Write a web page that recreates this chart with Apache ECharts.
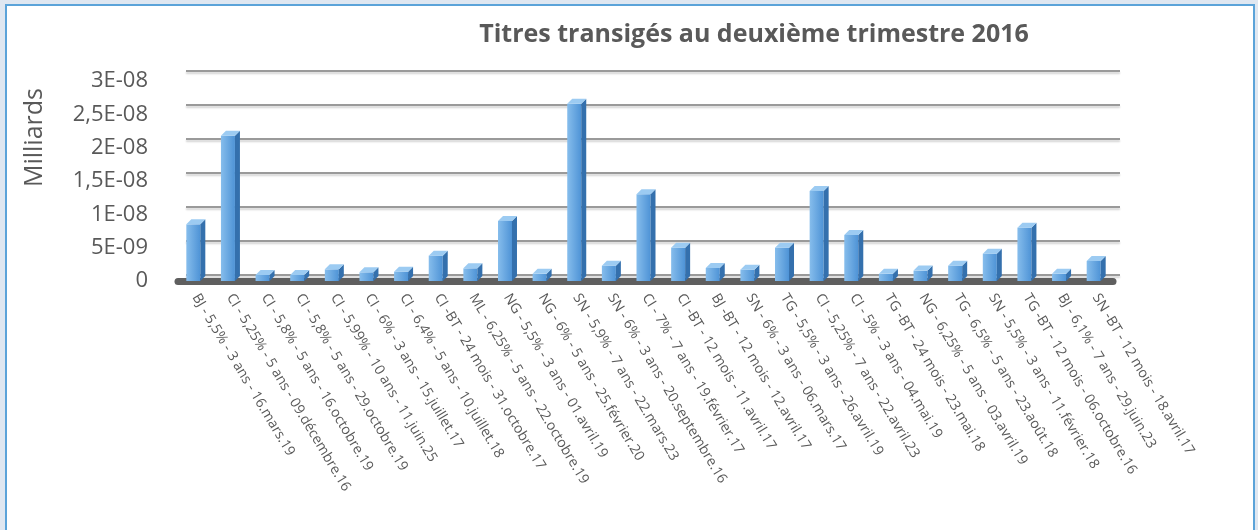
<!DOCTYPE html>
<html>
<head>
<meta charset="utf-8">
<script src="https://cdn.jsdelivr.net/npm/echarts@6/dist/echarts.min.js"></script>
<style>
  html, body { margin: 0; padding: 0; background: #dfe7f1; }
  #frame { position: absolute; left: 5px; top: 4px; width: 1246px; height: 540px;
    border: 2px solid #5ba3d9; background: #fff; }
  #chart { position: absolute; left: -7px; top: -6px; width: 1258px; height: 530px; }
</style>
</head>
<body>
<div id="frame"><div id="chart"></div></div>
<script>
const categories = [
  'BJ - 5,5% - 3 ans - 16.mars.19',
  'CI - 5,25% - 5 ans - 09.décembre.16',
  'CI - 5,8% - 5 ans - 16.octobre.19',
  'CI - 5,8% - 5 ans - 29.octobre.19',
  'CI - 5,99% - 10 ans - 11.juin.25',
  'CI - 6% - 3 ans - 15.juillet.17',
  'CI - 6,4% - 5 ans - 10.juillet.18',
  'CI -BT - 24 mois - 31.octobre.17',
  'ML - 6,25% - 5 ans - 22.octobre.19',
  'NG - 5,5% - 3 ans - 01.avril.19',
  'NG - 6% - 5 ans - 25.février.20',
  'SN - 5,9% - 7 ans - 22.mars.23',
  'SN - 6% - 3 ans - 20.septembre.16',
  'CI - 7% - 7 ans - 19.février.17',
  'CI -BT - 12 mois - 11.avril.17',
  'BJ -BT - 12 mois - 12.avril.17',
  'SN - 6% - 3 ans - 06.mars.17',
  'TG - 5,5% - 3 ans - 26.avril.19',
  'CI - 5,25% - 7 ans - 22.avril.23',
  'CI - 5% - 3 ans - 04.mai.19',
  'TG -BT - 24 mois - 23.mai.18',
  'NG - 6,25% - 5 ans - 03.avril.19',
  'TG - 6,5% - 5 ans - 23.août.18',
  'SN - 5,5% - 3 ans - 11.février.18',
  'TG -BT - 12 mois - 06.octobre.16',
  'BJ - 6,1% - 7 ans - 29.juin.23',
  'SN -BT - 12 mois - 18.avril.17'
]

// montants (milliards)
const values = [
  8.5e-9, 21.8e-9, 0.9e-9, 0.9e-9, 1.75e-9, 1.3e-9, 1.4e-9, 3.8e-9, 1.9e-9,
  9.0e-9, 1.07e-9, 26.6e-9, 2.3e-9, 13.0e-9, 5.0e-9, 1.95e-9, 1.7e-9, 5.0e-9,
  13.5e-9, 6.9e-9, 1.07e-9, 1.56e-9, 2.3e-9, 4.1e-9, 8.0e-9, 1.07e-9, 3.0e-9
]

const yTickLabels = ['0', '5E-09', '1E-08', '1,5E-08', '2E-08', '2,5E-08', '3E-08']
const yStep = 5e-9

const textColor = '#595959'
const chart = echarts.init(document.getElementById('chart'))

function renderBar(params, api) {
  const i = api.value(0)
  const base = api.coord([i, 0])
  const top = api.coord([i, api.value(1)])
  const w = 14
  const dx = 5
  const dy = -5
  const x = base[0] - w / 2 - 2
  return {
    type: 'group',
    children: [
      {
        type: 'rect',
        shape: { x: x, y: top[1], width: w, height: base[1] - top[1] },
        style: {
          fill: new echarts.graphic.LinearGradient(0, 0, 1, 0, [
            { offset: 0, color: '#86bdec' },
            { offset: 1, color: '#4e93d6' }
          ])
        }
      },
      {
        type: 'polygon',
        shape: { points: [[x + w, top[1]], [x + w + dx, top[1] + dy], [x + w + dx, base[1] + dy], [x + w, base[1]]] },
        style: { fill: '#3470ad' }
      },
      {
        type: 'polygon',
        shape: { points: [[x, top[1]], [x + dx, top[1] + dy], [x + w + dx, top[1] + dy], [x + w, top[1]]] },
        style: { fill: '#9ccbf2' }
      }
    ]
  }
}

chart.setOption({
  animation: false,
  title: {
    text: 'Titres transigés au deuxième trimestre 2016',
    left: 749,
    textAlign: 'center',
    top: 17,
    textStyle: { fontFamily: 'Open Sans', fontWeight: 'bold', fontSize: 25, color: textColor }
  },
  graphic: [{
    type: 'text',
    left: 22,
    top: 88,
    rotation: Math.PI / 2,
    style: { text: 'Milliards', fontFamily: 'Open Sans', fontSize: 25, fill: textColor }
  }],
  grid: [
    { left: 178, right: 145, top: 81, height: 200 },
    { left: 186, right: 138, top: 71, height: 204 }
  ],
  xAxis: [{
    type: 'category',
    gridIndex: 0,
    data: categories,
    axisLine: { lineStyle: { color: '#5f5f5f', width: 7 } },
    axisTick: { show: false },
    axisLabel: {
      rotate: -59,
      interval: 0,
      margin: 14,
      fontFamily: 'Open Sans',
      fontSize: 14,
      color: textColor
    }
  }, {
    type: 'category',
    gridIndex: 1,
    data: categories,
    axisLine: { show: false },
    axisTick: { show: false },
    axisLabel: { show: false }
  }],
  yAxis: [{
    type: 'value',
    gridIndex: 0,
    min: 0,
    max: 3e-8,
    interval: yStep,
    axisLine: { show: false },
    axisTick: { show: false },
    splitLine: { show: false },
    axisLabel: {
      margin: 30,
      fontFamily: 'Open Sans',
      fontSize: 22,
      color: textColor,
      formatter: v => yTickLabels[Math.round(v / yStep)]
    }
  }, {
    type: 'value',
    gridIndex: 1,
    min: 0,
    max: 3e-8,
    interval: yStep,
    axisLine: { show: false },
    axisTick: { show: false },
    axisLabel: { show: false },
    splitLine: {
      lineStyle: {
        color: '#9a9a9a',
        width: 2,
        shadowColor: 'rgba(0,0,0,0.18)',
        shadowBlur: 2,
        shadowOffsetY: 2
      }
    }
  }],
  series: [{
    type: 'custom',
    xAxisIndex: 0,
    yAxisIndex: 0,
    renderItem: renderBar,
    encode: { x: 0, y: 1 },
    data: values.map((v, i) => [i, v]),
    z: 5
  }]
})
</script>
</body>
</html>
